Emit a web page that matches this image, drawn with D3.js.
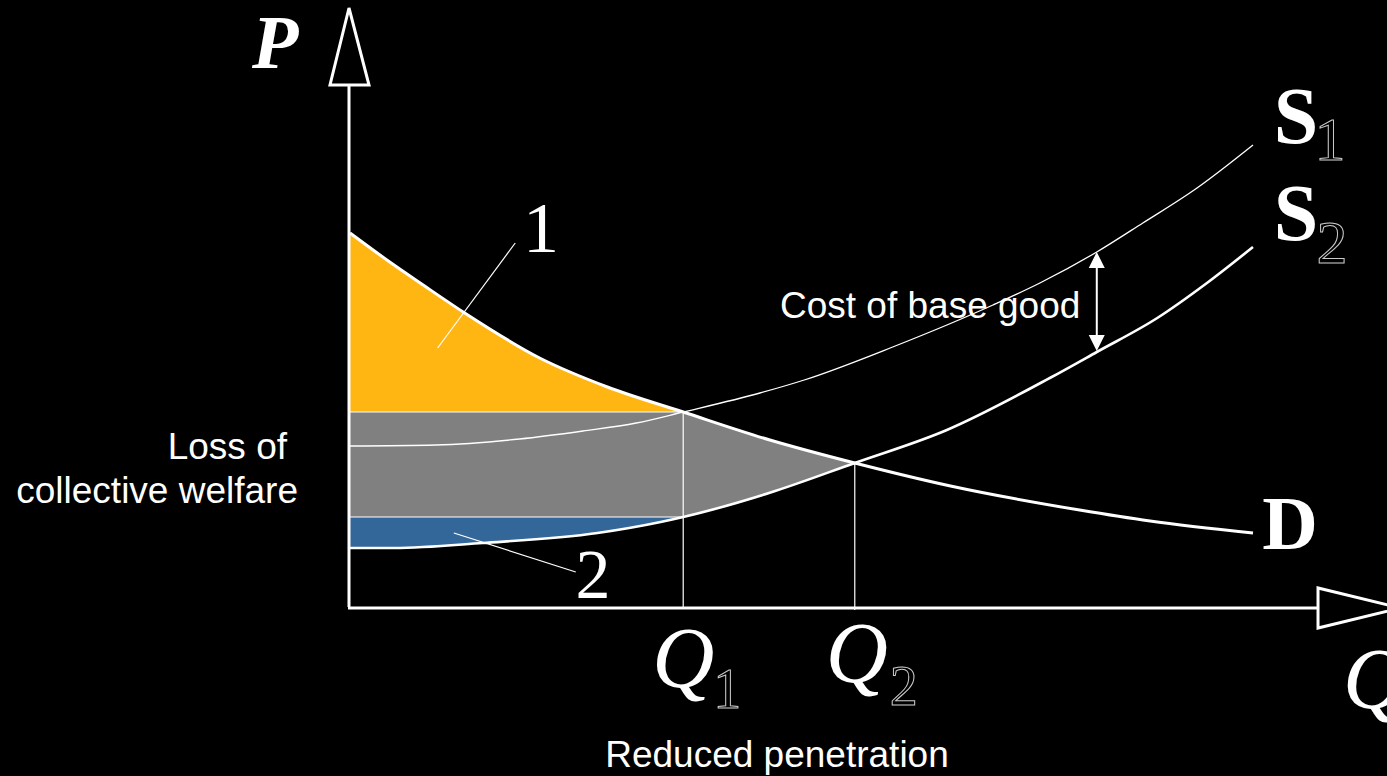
<!DOCTYPE html>
<html>
<head>
<meta charset="utf-8">
<style>
  html, body { margin: 0; padding: 0; background: #000; }
  svg { display: block; }
</style>
</head>
<body>
<script src="https://cdn.jsdelivr.net/npm/d3@7"></script>
<script>

// curves, [quantity, price]
var demand = [[0,74.8],[4.4,69],[8.1,64.4],[12.7,58.8],[21,49.8],[28.5,44],[36.9,39],[46.5,33.4],[55.9,28.8],[66.5,24.2],[80.8,19.4],[88.6,17.2],[100,14.8]];
var supply1 = [[0,32.2],[9.5,32.4],[18.8,33.6],[25.8,35.2],[31.7,36.8],[36.9,39],[45.4,42.8],[50.3,45.4],[60.1,52],[71.2,60.4],[76.4,64.8],[82.7,71],[87.8,76.8],[93.8,83.8],[100,92.4]];
var supply2 = [[0,11.8],[4.9,11.8],[14.7,12.8],[27.4,14.8],[34.4,17],[36.9,18],[46.4,22.8],[55.9,28.8],[66.1,35.4],[77.5,45.8],[82.7,51],[89.4,57.8],[94.9,64.8],[100,72]];

// equilibrium quantities and prices
var Q1 = 36.9, Q2 = 55.9;
var P1 = 39, P2 = 18, PQ2 = 28.8;

// the "cost of base good" gap
var costQ = 82.7, costTop = 71, costBottom = 51.2;

// leader lines for region labels
var leader1 = [[9.7,51.8],[18.3,72.8]];
var leader2 = [[11.5,14.8],[25.0,7.0]];

var qEnd = 107.2, pEnd = 104.4;

var width = 1387, height = 776;

var x = d3.scaleLinear().domain([0,100]).range([350,1253]);
var y = d3.scaleLinear().domain([0,100]).range([607,107]);

var svg = d3.select("body").append("svg")
    .attr("width", width)
    .attr("height", height)
    .style("background", "#000");

var line = d3.line()
    .x(d => x(d[0]))
    .y(d => y(d[1]))
    .curve(d3.curveMonotoneX);

var straight = d3.line()
    .x(d => x(d[0]))
    .y(d => y(d[1]));

var defs = svg.append("defs");

// region under the demand curve
defs.append("clipPath").attr("id","underD")
  .append("path")
    .attr("d", d3.area().x(d => x(d[0])).y0(y(-10)).y1(d => y(d[1])).curve(d3.curveMonotoneX)(demand));

// region above the S2 curve
defs.append("clipPath").attr("id","aboveS2")
  .append("path")
    .attr("d", d3.area().x(d => x(d[0])).y0(y(130)).y1(d => y(d[1])).curve(d3.curveMonotoneX)(supply2));

// orange: consumer side above P1
svg.append("g").attr("clip-path","url(#underD)")
  .append("rect")
    .attr("x", x(0)).attr("y", y(100))
    .attr("width", x(Q1) - x(0)).attr("height", y(P1) - y(100))
    .attr("fill", "#FFB612");

// gray: loss of collective welfare
svg.append("g").attr("clip-path","url(#underD)")
  .append("g").attr("clip-path","url(#aboveS2)")
  .append("rect")
    .attr("x", x(0)).attr("y", y(P1))
    .attr("width", x(Q2) - x(0)).attr("height", y(P2) - y(P1))
    .attr("fill", "#808080");

// blue: producer side below P2
svg.append("g").attr("clip-path","url(#aboveS2)")
  .append("rect")
    .attr("x", x(0)).attr("y", y(P2))
    .attr("width", x(Q1) - x(0)).attr("height", y(0) - y(P2))
    .attr("fill", "#336699");

// thin guides
var guides = svg.append("g").attr("stroke","#fff").attr("stroke-width",1.2).attr("fill","none");
guides.append("line").attr("x1",x(0)).attr("x2",x(Q1)).attr("y1",y(P1)).attr("y2",y(P1));
guides.append("line").attr("x1",x(0)).attr("x2",x(Q1)).attr("y1",y(P2)).attr("y2",y(P2));
guides.append("line").attr("x1",x(Q1)).attr("x2",x(Q1)).attr("y1",y(P1)).attr("y2",y(0));
guides.append("line").attr("x1",x(Q2)).attr("x2",x(Q2)).attr("y1",y(PQ2)).attr("y2",y(0)+3);
guides.append("path").attr("d", straight(leader1));
guides.append("path").attr("d", straight(leader2));

// curves
svg.append("path").attr("d", line(supply1)).attr("fill","none").attr("stroke","#fff").attr("stroke-width",1.3);
svg.append("path").attr("d", line(supply2)).attr("fill","none").attr("stroke","#fff").attr("stroke-width",2.6);
svg.append("path").attr("d", line(demand)).attr("fill","none").attr("stroke","#fff").attr("stroke-width",3);

// axes with hollow arrowheads
var ax = svg.append("g").attr("stroke","#fff").attr("stroke-width",3).attr("fill","#000");
ax.append("line").attr("x1",x(0)-1).attr("x2",x(0)-1).attr("y1",y(0)).attr("y2",y(pEnd));
ax.append("line").attr("x1",x(0)-2).attr("x2",x(qEnd)).attr("y1",y(0)+1).attr("y2",y(0)+1);
ax.append("path")
    .attr("d", "M" + (x(0)-20) + "," + y(pEnd) + "L" + (x(0)+19) + "," + y(pEnd) + "L" + (x(0)-1) + "," + (y(pEnd)-77) + "Z");
ax.append("path")
    .attr("d", "M" + x(qEnd) + "," + (y(0)-19) + "L" + x(qEnd) + "," + (y(0)+21) + "L" + (x(qEnd)+82) + "," + (y(0)+1) + "Z");

// double arrow between S1 and S2
var ca = svg.append("g");
ca.append("line")
    .attr("x1",x(costQ)).attr("x2",x(costQ))
    .attr("y1",y(costTop)+12).attr("y2",y(costBottom)-12)
    .attr("stroke","#fff").attr("stroke-width",2);
ca.append("path").attr("fill","#fff")
    .attr("d","M"+x(costQ)+","+y(costTop)+"l-8,16h16Z");
ca.append("path").attr("fill","#fff")
    .attr("d","M"+x(costQ)+","+y(costBottom)+"l-8,-16h16Z");

// text
var sans = "'Liberation Sans', Arial, sans-serif";
var serif = "'Liberation Serif', 'Times New Roman', serif";

function txt(s, px, py, opts) {
  var t = svg.append("text").attr("x", px).attr("y", py).text(s)
      .attr("fill", opts.fill || "#fff")
      .attr("font-family", opts.family || sans)
      .attr("font-size", opts.size || 37);
  if (opts.anchor) t.attr("text-anchor", opts.anchor);
  if (opts.weight) t.attr("font-weight", opts.weight);
  if (opts.style) t.attr("font-style", opts.style);
  if (opts.stroke) t.attr("stroke", opts.stroke).attr("stroke-width", 1);
  return t;
}

txt("Cost of base good", 780, 318, {});
txt("Loss of", 287, 459, {anchor:"end"});
txt("collective welfare", 298, 503, {anchor:"end"});
txt("Reduced penetration", 777, 767, {anchor:"middle"});

txt("P", 252, 68, {family:serif, size:76, weight:"bold", style:"italic"});
txt("1", 541, 252, {family:serif, size:72, anchor:"middle"});
txt("2", 593, 598, {family:serif, size:70, anchor:"middle"});

txt("S", 1296, 143, {family:serif, size:80, weight:"bold", anchor:"middle"});
txt("1", 1330, 160, {family:serif, size:62, anchor:"middle", fill:"#000", stroke:"#ccc"});
txt("S", 1296, 240, {family:serif, size:80, weight:"bold", anchor:"middle"});
txt("2", 1332, 263, {family:serif, size:62, anchor:"middle", fill:"#000", stroke:"#ccc"});
txt("D", 1290, 549, {family:serif, size:77, weight:"bold", anchor:"middle"});

txt("Q", x(Q1), 687, {family:serif, size:86, style:"italic", anchor:"middle"});
txt("1", x(Q1)+44, 708, {family:serif, size:56, anchor:"middle", fill:"#000", stroke:"#ccc"});
txt("Q", x(Q2)+2, 682, {family:serif, size:86, style:"italic", anchor:"middle"});
txt("2", x(Q2)+49, 705, {family:serif, size:56, anchor:"middle", fill:"#000", stroke:"#ccc"});
txt("Q", 1343, 708, {family:serif, size:86, style:"italic"});

</script>
</body>
</html>
